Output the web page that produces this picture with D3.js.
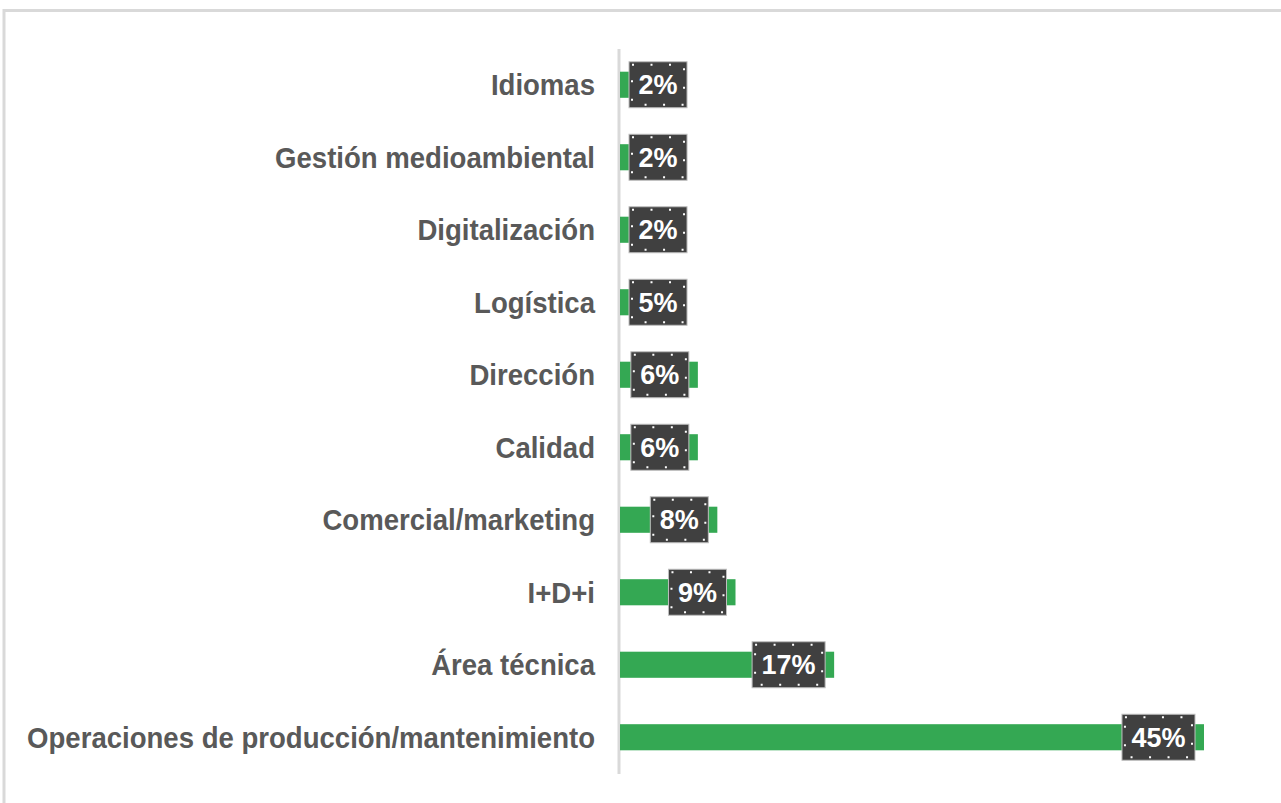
<!DOCTYPE html>
<html lang="es">
<head>
    <meta charset="UTF-8">
    <title>Áreas de formación</title>
    <script src="https://cdn.jsdelivr.net/npm/d3@7"></script>
    <style>
        body {
            margin: 0;
            background-color: #fff;
        }

        svg {
            display: block;
            font-family: "Liberation Sans", Arial, sans-serif;
        }

        .cat text {
            font-size: 30px;
            font-weight: bold;
            fill: #595959;
        }

        .val {
            font-size: 27px;
            font-weight: bold;
            fill: #fff;
        }
    </style>
</head>
<body>
    <script>
        // categorías de arriba a abajo
        const categories = [
            'Idiomas',
            'Gestión medioambiental',
            'Digitalización',
            'Logística',
            'Dirección',
            'Calidad',
            'Comercial/marketing',
            'I+D+i',
            'Área técnica',
            'Operaciones de producción/mantenimiento'
        ];
        const values = [2, 2, 2, 5, 6, 6, 7.5, 8.9, 16.5, 45];

        const w = 1281;
        const h = 803;

        const svg = d3.select('body')
            .append('svg')
            .attr('width', w)
            .attr('height', h);

        // marco gris del gráfico
        svg.append('rect')
            .attr('x', 4)
            .attr('y', 10.5)
            .attr('width', 1400)
            .attr('height', 1000)
            .attr('fill', 'none')
            .attr('stroke', '#d9d9d9')
            .attr('stroke-width', 3);

        const xScale = d3.scaleLinear()
            .domain([0, 45])
            .range([620, 1204]);

        const yScale = d3.scaleBand()
            .domain(categories)
            .range([48.5, 773.5])
            .paddingInner(0.64)
            .paddingOuter(0.32);

        const yAxis = d3.axisLeft(yScale).tickSize(0).tickSizeOuter(0);
        const gAxis = svg.append('g')
            .attr('class', 'cat')
            .attr('transform', 'translate(618.5, 0)')
            .call(yAxis);

        gAxis.select('.domain')
            .attr('stroke', '#d9d9d9')
            .attr('stroke-width', 3);

        // las etiquetas del original salen algo estrechas
        let maxLen = 0;
        gAxis.selectAll('.tick text').each(function () {
            maxLen = Math.max(maxLen, this.getComputedTextLength());
        });
        const sx = 568 / maxLen;
        gAxis.selectAll('.tick text')
            .attr('font-family', null)
            .attr('font-size', null)
            .attr('x', -23.5 / sx)
            .attr('dy', '0.35em')
            .attr('transform', `scale(${sx}, 1)`);

        svg.selectAll('.bar')
            .data(values)
            .enter()
            .append('rect')
            .attr('class', 'bar')
            .attr('x', xScale(0))
            .attr('y', (d, i) => yScale(categories[i]))
            .attr('width', d => xScale(d) - xScale(0))
            .attr('height', yScale.bandwidth())
            .attr('fill', '#34a853');

        // etiquetas de datos con fondo oscuro
        const labels = svg.selectAll('.lab')
            .data(values)
            .enter()
            .append('g')
            .attr('class', 'lab');

        labels.each(function (d, i) {
            const g = d3.select(this);
            const cy = yScale(categories[i]) + yScale.bandwidth() / 2;
            const txt = g.append('text')
                .attr('class', 'val')
                .attr('text-anchor', 'middle')
                .attr('dy', '0.36em')
                .text(Math.round(d) + '%');
            const bw = txt.node().getComputedTextLength() + 19;
            const bh = 46;
            let left = xScale(d) - 9 - bw;
            if (left < 629) left = 629;

            g.insert('rect', 'text')
                .attr('x', left)
                .attr('y', cy - bh / 2)
                .attr('width', bw)
                .attr('height', bh)
                .attr('fill', '#404040')
                .attr('stroke', '#bfbfbf')
                .attr('stroke-width', 1);

            g.insert('rect', 'text')
                .attr('x', left + 3)
                .attr('y', cy - bh / 2 + 3)
                .attr('width', bw - 6)
                .attr('height', bh - 6)
                .attr('fill', 'none')
                .attr('stroke', '#fff')
                .attr('stroke-width', 2)
                .attr('stroke-dasharray', '2 16.5');

            txt.attr('x', left + bw / 2).attr('y', cy);
        });
    </script>
</body>
</html>
